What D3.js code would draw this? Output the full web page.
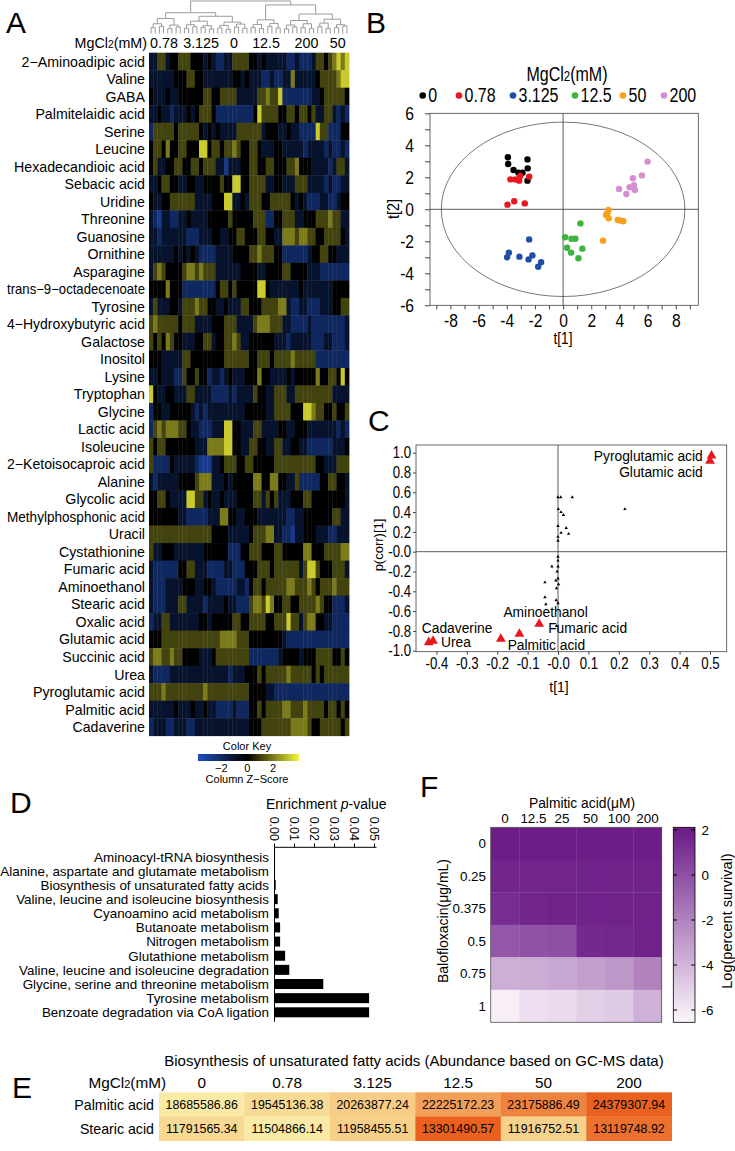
<!DOCTYPE html>
<html>
<head>
<meta charset="utf-8">
<script src="https://cdn.jsdelivr.net/npm/d3@7"></script>
<style>
body { margin: 0; background: #fff; }
svg { display: block; font-family: "Liberation Sans", Arial, sans-serif; }
</style>
</head>
<body>
<svg id="fig" width="735" height="1151"></svg>
<script>
// ---------- data ----------
var metabolites = ["2\u2212Aminoadipic acid","Valine","GABA","Palmitelaidic acid","Serine","Leucine",
	"Hexadecandioic acid","Sebacic acid","Uridine","Threonine","Guanosine","Ornithine","Asparagine",
	"trans\u22129\u2212octadecenoate","Tyrosine","4\u2212Hydroxybutyric acid","Galactose","Inositol","Lysine",
	"Tryptophan","Glycine","Lactic acid","Isoleucine","2\u2212Ketoisocaproic acid","Alanine","Glycolic acid",
	"Methylphosphonic acid","Uracil","Cystathionine","Fumaric acid","Aminoethanol","Stearic acid",
	"Oxalic acid","Glutamic acid","Succinic acid","Urea","Pyroglutamic acid","Palmitic acid","Cadaverine"];
var heatGroups = ["0.78","3.125","0","12.5","200","50"];
// z-score levels
var zLevels = {B: -2.8, b: -1.9, n: -0.9, k: 0, o: 1.1, y: 2.0, Y: 3.3};
var zRows = [
	"nnoonkko ookkknkn bbnnoooo kknknnnn nbbnbbbn ookoyYyY",
	"nnnnnnkk kookknnn nnnnkknk nnnbbnbb nnynnnnn kooooyYY",
	"knnnknnk kkkkkook koooonnn nnooyooY bbbbbbbn nkoooook",
	"nnknnbnn nknkoook bbbbbbbb bkYooook kookooko nnoonbnb",
	"boooooko ooooknkn knnnnooo ooonkkkn nknnbbbb Yoobbbkk",
	"kookykko okkkYYko okooyokk ooknnnkk nnnnnbnn nnbnbbnb",
	"konnkkoo kkookooo nnBnnnkk ookkookk kooykkkn nnnbnoon",
	"nnkookkn nkknnkkk kokkYYkk oooonnkk nnnooonn nnbnbbnn",
	"knnkkooo ooonnnnk kkYYnnkn oookkooo ooknknbb bnnbbnkk",
	"nbBnnbbn nknnnnkk kkkokkkk kooobbkk ooonnkkk oooyoonn",
	"nnbnnnnn nbbbnnnk knnkkook kkookknn yyyoyyoo kkooookn",
	"nnnnnnkn knknbbbb nnnnkkkk ooyoookk bbbbbbnk kookknnn",
	"noyokkkk oyyoyooo nnnnnnkk kknnkkkk ookkkknn nbbbbbbb",
	"kkkkykkk bbbbbbbb kookokkk kkYYknnn nnnnknnn nnnnkkkk",
	"nonnnkkn oooyookk nnknnnoo kkkooooy ynbbnnbb bnnnkkoo",
	"oyoooook ooonnnnk kkooonnn noyyyooo nnbbbbnb bbbbbbbn",
	"okokyokk nnnkkoon kkooyonn kkkkkknn nbnnnnnb bbnnbbbn",
	"kkknnnnn ookkkkkk kkoooooo kkoookoo ooyooooo bbbbbbbb",
	"nnknnnbb okkokkbn nbnknnnk kkykknnn nknkkkkk ykkookYk",
	"Yknnkknn noonnnnb bbbnbnnn nokknnoo onnooooo oooonnnn",
	"bkknnkkk kknbnbnn nnnnnnnk kkkknnoo ookkkYYy ookkokko",
	"boyoyyyo oknnbbbn nnYYkknn noonnnnk knnkkknn nnnnnbnb",
	"okookkkk kkknnnyy yyYYkknn ookknnoo nnkknnbb bbbbnnnk",
	"obbbbknn nnnbBBBn nkoookko okkkkkoo oooooooo kknnnooo",
	"nbnnnnnk kkkoyyyn nnknkkkk kyykkyyk knnobbbb bkkookkn",
	"kkooknnn nYYoonkn nknnnkkk koonokon nnkkkook kkkkkkkn",
	"kkkkkkkn nbbbbbnn nyykknnk kknnnnnn nbbnnkkk kkkkoonn",
	"oooooooo oooooook kkknnnnn koooyynn bbBnnkkk nnnbbnnn",
	"onnkkknn nnnnnkkk kkkbbbkk oookkkoo kkkkkyyk kkooooyy",
	"nbbbbbbk koonnnbb bbnnbbbk kkoookoo oooonoYY okkkooon",
	"nbbbnnnn kkknnkkn bbbbbnnb kookoooo oyyoooyo koooyooo",
	"nbbbnnno onnnnbnn nnknnbbb oyyoYykk ookkoooo yokkbbbn",
	"bnnoonnn nnnnkknk kkkkookk ooookkoo oYoonoyy kknnbbbb",
	"kkkooooo oooooooo oyyyyooo kkkkkkkk nbbbbbbb bbbbbbbb",
	"oyyooyoo kkkknnnk oooooooo bbbbbbbn kkkknkkk ooookkok",
	"nbbbbnnn nnnnnnnn nnnbnnnk kkokoooo oyoooook okoooooo",
	"oooyoooo oooooyoo oooooooo kkkknnbb bbbbbbbb bbbbbbbb",
	"nnnnnnkn nnknnknn bbbbnbbb kkokoooo yyoooyoo ookookok",
	"bnnnbbnn nbbnnnnn nnnnnnnn kkkooooo ooyyyyok koooooko"
];
// column dendrogram: [height, left, right], leaves are column numbers
var dendro = [10,
	[6.4,
		[4.6, [3.0, [1.8, 0, 1], [2.2, 2, 3]], [2.6, [1.5, 4, 5], [2.0, 6, 7]]],
		[5.3,
			[3.8, [2.7, [1.6, 8, 9], [2.1, 10, 11]], [2.4, [1.9, 12, 13], [1.4, 14, 15]]],
			[3.5, [2.5, [1.7, 16, 17], [1.3, 18, 19]], [2.9, [2.0, 20, 21], [1.6, 22, 23]]]]],
	[8.8,
		[4.2, [2.8, [1.9, 24, 25], [1.5, 26, 27]], [3.1, [2.2, 28, 29], [1.7, 30, 31]]],
		[6.0,
			[4.0, [2.6, [1.4, 32, 33], [2.0, 34, 35]], [3.0, [1.8, 36, 37], [1.5, 38, 39]]],
			[4.4, [3.2, [2.1, 40, 41], [1.6, 42, 43]], [2.7, [1.8, 44, 45], [2.3, 46, 47]]]]]];
var keyTicks = [-2, 0, 2];

// PCA scores
var pcaGroups = ["0","0.78","3.125","12.5","50","200"];
var pcaColors = ["#000000","#e8161e","#1f4ea8","#3db53d","#f7a11d","#d58fd0"];
var pcaT1 = [
	[-3.92,-3.9,-3.52,-3.17,-2.88,-2.53,-2.51,-2.53],
	[-3.74,-3.38,-3.12,-3.05,-2.41,-3.95,-3.47,-2.72],
	[-3.97,-3.85,-3.1,-2.41,-2.45,-2.18,-1.77,-1.56],
	[0.14,0.28,0.57,0.59,0.87,1.09,1.23,1.37],
	[2.84,3.05,3.22,3.24,3.14,3.88,4.12,4.28],
	[3.97,4.49,4.72,4.96,5.03,5.1,5.6,6.0]];
var pcaT2 = [
	[3.25,2.83,2.46,2.29,2.29,3.12,2.56,1.79],
	[1.87,1.87,1.79,2.08,2.04,0.29,0.5,0.37],
	[-3.0,-2.71,-2.96,-1.88,-3.13,-2.88,-3.59,-3.31],
	[-1.75,-2.4,-2.71,-1.84,-1.84,-3.06,-0.88,-2.46],
	[-1.96,-0.36,-0.04,-0.56,-0.25,-0.67,-0.71,-0.75],
	[1.27,0.96,1.38,1.94,1.5,1.2,2.12,2.98]];

// S-plot loadings
var loadT1 = [0,0.009,0.047,0.001,0.01,0.018,0.027,0.035,0.01,0,0,0,0.22,
	0,0,0,-0.02,0,-0.007,-0.043,-0.005,-0.043,-0.04,-0.006,0,-0.005,-0.003,0.002];
var loadP = [0.55,0.55,0.55,0.43,0.40,0.37,0.24,0.18,0.19,0.26,0.15,0.11,0.43,
	-0.05,-0.09,-0.15,-0.15,-0.27,-0.29,-0.31,-0.37,-0.46,-0.53,-0.49,-0.52,-0.75,-0.2,-0.33];
var markNames = ["Cadaverine","Urea","Palmitic acid","Aminoethanol","Fumaric acid","Glutamic acid","Pyroglutamic acid"];
var markT1 = [-0.425,-0.411,-0.188,-0.127,-0.062,0.5,0.505];
var markP = [-0.915,-0.902,-0.882,-0.831,-0.73,0.916,0.97];

// pathway enrichment
var pathways = ["Aminoacyl-tRNA biosynthesis","Alanine, aspartate and glutamate metabolism",
	"Biosynthesis of unsaturated fatty acids","Valine, leucine and isoleucine biosynthesis",
	"Cyanoamino acid metabolism","Butanoate metabolism","Nitrogen metabolism","Glutathione metabolism",
	"Valine, leucine and isoleucine degradation","Glycine, serine and threonine metabolism",
	"Tyrosine metabolism","Benzoate degradation via CoA ligation"];
var pathwayP = [0.00002,0.00005,0.0006,0.0016,0.0021,0.0028,0.0028,0.0053,0.0074,0.0244,0.0473,0.0473];
var pTicks = [0, 0.01, 0.02, 0.03, 0.04, 0.05];

// GC-MS abundance
var eConc = ["0","0.78","3.125","12.5","50","200"];
var eAcids = ["Palmitic acid","Stearic acid"];
var ePalmitic = [18685586.86,19545136.38,20263877.24,22225172.23,23175886.49,24379307.94];
var eStearic = [11791565.34,11504866.14,11958455.51,13301490.57,11916752.51,13119748.92];

// survival checkerboard
var fPalm = ["0","12.5","25","50","100","200"];
var fBalo = ["0","0.25","0.375","0.5","0.75","1"];
var fSurv = [
	[2.0,2.0,2.0,2.0,2.0,2.0],
	[1.7,1.7,1.7,1.8,1.8,1.8],
	[1.4,1.7,1.8,1.8,1.8,1.8],
	[-0.3,-0.1,0.0,1.5,1.6,1.8],
	[-3.7,-3.6,-3.4,-3.1,-2.8,-2.0],
	[-6.2,-5.6,-5.4,-5.0,-4.8,-3.8]];
var fTicks = [2, 0, -2, -4, -6];

// ---------- drawing ----------
var svg = d3.select("#fig");
var defs = svg.append("defs");

// condensed look: shrink the drawn width of a text
function squeeze(sel, k) {
	sel.each(function() {
		var w = this.getComputedTextLength();
		d3.select(this).attr("textLength", w * k).attr("lengthAdjust", "spacingAndGlyphs");
	});
}
function fitWidth(sel, maxW) {
	sel.each(function() {
		var w = this.getComputedTextLength();
		if (w > maxW) d3.select(this).attr("textLength", maxW).attr("lengthAdjust", "spacingAndGlyphs");
	});
}

[["A",6,33],["B",366,33],["C",368,431],["D",10,813],["E",12,1098],["F",420,797]].forEach(function(p) {
	svg.append("text").attr("x", p[1]).attr("y", p[2])
		.attr("font-size", 30).text(p[0]);
});

function mgcl(sel, size) {
	sel.append("tspan").text("MgCl");
	sel.append("tspan").attr("font-size", size * 0.72).text("2");
	sel.append("tspan").text("(mM)");
}

// ----- A: heatmap
var xA = d3.scaleBand().domain(d3.range(48)).range([149, 349]);
var yA = d3.scaleBand().domain(metabolites).range([52.7, 735.7]);
var zColor = d3.scaleLinear().domain([-3.8, 0, 4]).range(["#1f4fbf", "#000000", "#f5f535"]).clamp(true);

var gA = svg.append("g");
zRows.forEach(function(row, i) {
	var cells = row.replace(/ /g, "").split("");
	gA.append("g").selectAll("rect").data(cells).enter().append("rect")
		.attr("x", function(d, j) { return xA(j); })
		.attr("y", yA(metabolites[i]))
		.attr("width", xA.bandwidth() + 0.4)
		.attr("height", yA.bandwidth() + 0.4)
		.attr("fill", function(d) { return zColor(zLevels[d]); });
});

gA.selectAll("text.rowlab").data(metabolites).enter().append("text")
	.attr("class", "rowlab")
	.attr("x", 145)
	.attr("y", function(d) { return yA(d) + yA.bandwidth() / 2; })
	.attr("dy", "0.36em")
	.attr("text-anchor", "end")
	.attr("font-size", 14.2)
	.text(function(d) { return d; })
	.call(fitWidth, 138);

var hdr = gA.append("text").attr("x", 147).attr("y", 47.5).attr("text-anchor", "end").attr("font-size", 14.3);
mgcl(hdr, 14.3);
var groupLabelCol = [3.6, 12.5, 20.4, 28.1, 37.8, 45.3];
gA.selectAll("text.grp").data(heatGroups).enter().append("text")
	.attr("class", "grp")
	.attr("x", function(d, i) { return 149 + xA.step() * groupLabelCol[i]; })
	.attr("y", 47.5)
	.attr("text-anchor", "middle")
	.attr("font-size", 14.3)
	.text(function(d) { return d; });

// dendrogram
var dY = d3.scaleLinear().domain([0, 10]).range([33.5, 1]);
var gDen = gA.append("g").attr("fill", "none").attr("stroke", "#9a9a9a").attr("stroke-width", 1);
function drawNode(node) {
	if (typeof node === "number") return {x: xA(node) + xA.bandwidth() / 2, y: dY(0)};
	var a = drawNode(node[1]), b = drawNode(node[2]);
	var y = dY(node[0]);
	gDen.append("path").attr("d", "M" + a.x + "," + a.y + "V" + y + "H" + b.x + "V" + b.y);
	return {x: (a.x + b.x) / 2, y: y};
}
drawNode(dendro);

// colour key
var xKey = d3.scaleLinear().domain([-3.8, 4]).range([198, 299]);
var grad = defs.append("linearGradient").attr("id", "zgrad");
d3.range(-3.8, 4.01, 0.2).forEach(function(v) {
	grad.append("stop").attr("offset", (xKey(v) - 198) / 101).attr("stop-color", zColor(v));
});
gA.append("rect").attr("x", 198).attr("y", 754).attr("width", 101).attr("height", 7).attr("fill", "url(#zgrad)");
gA.append("text").attr("x", 247).attr("y", 750).attr("text-anchor", "middle").attr("font-size", 11).text("Color Key");
gA.selectAll("text.kt").data(keyTicks).enter().append("text")
	.attr("class", "kt")
	.attr("x", function(d) { return xKey(d); })
	.attr("y", 771.5)
	.attr("text-anchor", "middle")
	.attr("font-size", 11)
	.text(function(d) { return d < 0 ? "\u2212" + (-d) : d; });
gA.append("text").attr("x", 247).attr("y", 782.5).attr("text-anchor", "middle").attr("font-size", 11).text("Column Z\u2212Score");

// ----- B: PCA scores
var xB = d3.scaleLinear().domain([-9.45, 9.6]).range([430, 698.3]);
var yB = d3.scaleLinear().domain([-6, 6]).range([305.3, 113.3]);
var gB = svg.append("g");

var tB = gB.append("g").attr("transform", "translate(567,80.5) scale(0.82,1)")
	.append("text").attr("text-anchor", "middle").attr("font-size", 19.5);
mgcl(tB, 19.5);
var legX = [422.7, 459, 513, 575, 623, 664];
pcaGroups.forEach(function(g, i) {
	gB.append("circle").attr("cx", legX[i]).attr("cy", 95.5).attr("r", 3.3).attr("fill", pcaColors[i]);
	gB.append("text").attr("x", legX[i] + 5.5).attr("y", 101.5).attr("font-size", 19.5).text(g)
		.call(squeeze, 0.82);
});

gB.append("rect").attr("x", 430).attr("y", 113.3).attr("width", 268.3).attr("height", 192)
	.attr("fill", "none").attr("stroke", "#444").attr("stroke-width", 0.8);
gB.append("ellipse").attr("cx", xB(0)).attr("cy", yB(0))
	.attr("rx", xB(8.65) - xB(0)).attr("ry", yB(0) - yB(5.45))
	.attr("fill", "none").attr("stroke", "#555").attr("stroke-width", 0.8);
gB.append("line").attr("x1", xB(0)).attr("x2", xB(0)).attr("y1", yB(6)).attr("y2", yB(-6)).attr("stroke", "#333").attr("stroke-width", 0.8);
gB.append("line").attr("x1", 430).attr("x2", 698.3).attr("y1", yB(0)).attr("y2", yB(0)).attr("stroke", "#333").attr("stroke-width", 0.8);

var axBx = gB.append("g").attr("transform", "translate(0,305.3)")
	.call(d3.axisBottom(xB).tickValues(d3.range(-9, 10)).tickSize(4).tickPadding(4)
		.tickFormat(function(d) { return d % 2 === 0 ? d : ""; }));
var axBy = gB.append("g").attr("transform", "translate(430,0)")
	.call(d3.axisLeft(yB).tickValues(d3.range(-6, 7)).tickSize(5).tickPadding(11)
		.tickFormat(function(d) { return d % 2 === 0 ? d : ""; }));
[axBx, axBy].forEach(function(a) {
	a.attr("font-family", null).attr("font-size", 19);
	a.select(".domain").remove();
	a.selectAll("line").attr("stroke", "#444");
	a.selectAll("text").filter(function() { return this.textContent !== ""; }).call(squeeze, 0.82);
});
gB.append("text").attr("transform", "translate(399,209) rotate(-90)").attr("text-anchor", "middle")
	.attr("font-size", 17).text("t[2]").call(squeeze, 0.85);
gB.append("text").attr("x", 563).attr("y", 344).attr("text-anchor", "middle").attr("font-size", 16).text("t[1]")
	.call(squeeze, 0.85);

pcaGroups.forEach(function(g, i) {
	gB.append("g").selectAll("circle").data(d3.zip(pcaT1[i], pcaT2[i])).enter().append("circle")
		.attr("cx", function(d) { return xB(d[0]); })
		.attr("cy", function(d) { return yB(d[1]); })
		.attr("r", 3.2)
		.attr("fill", pcaColors[i]);
});

// ----- C: S-plot
var xC = d3.scaleLinear().domain([-0.4671, 0.5549]).range([416, 726.7]);
var yC = d3.scaleLinear().domain([-1.0, 1.0]).range([650.7, 452.7]);
var gC = svg.append("g");
gC.append("rect").attr("x", 416).attr("y", 445).attr("width", 310.7).attr("height", 206.7)
	.attr("fill", "none").attr("stroke", "#444").attr("stroke-width", 0.8);
gC.append("line").attr("x1", xC(0)).attr("x2", xC(0)).attr("y1", 445).attr("y2", 651.7).attr("stroke", "#333").attr("stroke-width", 0.8);
gC.append("line").attr("x1", 416).attr("x2", 726.7).attr("y1", yC(0)).attr("y2", yC(0)).attr("stroke", "#333").attr("stroke-width", 0.8);
function cFmt(d) { var s = d3.format(".1f")(Math.abs(d)); return (d <= 0.001 ? "-" : "") + s; }
var axCx = gC.append("g").attr("transform", "translate(0,651.7)")
	.call(d3.axisBottom(xC).tickValues(d3.range(-4, 6).map(function(v) { return v / 10; })).tickSize(3).tickPadding(3).tickFormat(cFmt));
var axCy = gC.append("g").attr("transform", "translate(416,0)")
	.call(d3.axisLeft(yC).tickValues(d3.range(-5, 6).map(function(v) { return v / 5; })).tickSize(3).tickPadding(2).tickFormat(cFmt));
[axCx, axCy].forEach(function(a) {
	a.attr("font-family", null).attr("font-size", 16.5);
	a.select(".domain").remove();
	a.selectAll("line").attr("stroke", "#444");
	a.selectAll("text").call(squeeze, 0.8);
});
gC.append("text").attr("transform", "translate(383,545) rotate(-90)").attr("text-anchor", "middle")
	.attr("font-size", 13).text("p(corr)[1]");
gC.append("text").attr("x", 559).attr("y", 692).attr("text-anchor", "middle").attr("font-size", 14).text("t[1]");

var tri = d3.symbol().type(d3.symbolTriangle);
gC.selectAll("path.small").data(d3.zip(loadT1, loadP)).enter().append("path")
	.attr("class", "small")
	.attr("transform", function(d) { return "translate(" + xC(d[0]) + "," + yC(d[1]) + ")"; })
	.attr("d", tri.size(5)())
	.attr("fill", "#000");
gC.selectAll("path.mark").data(d3.zip(markT1, markP)).enter().append("path")
	.attr("class", "mark")
	.attr("transform", function(d) { return "translate(" + xC(d[0]) + "," + yC(d[1]) + ")"; })
	.attr("d", tri.size(42)())
	.attr("fill", "#e8161e");
// label anchors relative to each marker (layout only)
var markLab = {
	"Cadaverine": [-7, -9.3, "start"], "Urea": [8, 5.7, "start"], "Palmitic acid": [6.8, 11, "start"],
	"Aminoethanol": [-16, -17.3, "start"], "Fumaric acid": [9, 8.7, "start"],
	"Glutamic acid": [-7.3, 15.7, "end"], "Pyroglutamic acid": [-8.8, 5.3, "end"]
};
markNames.forEach(function(n, i) {
	var o = markLab[n];
	gC.append("text").attr("x", xC(markT1[i]) + o[0]).attr("y", yC(markP[i]) + o[1])
		.attr("text-anchor", o[2]).attr("font-size", 13.8).text(n);
});

// ----- D: enrichment bars
var xD = d3.scaleLinear().domain([0, 0.05]).range([274.5, 374.5]);
var yD = d3.scalePoint().domain(pathways).range([856.7, 1012.3]);
var gD = svg.append("g");
var tD = gD.append("text").attr("x", 266).attr("y", 808.5).attr("font-size", 14);
tD.append("tspan").text("Enrichment ");
tD.append("tspan").attr("font-style", "italic").text("p");
tD.append("tspan").text("-value");
gD.append("line").attr("x1", xD(0)).attr("x2", 376.5).attr("y1", 847.3).attr("y2", 847.3).attr("stroke", "#000");
gD.append("line").attr("x1", xD(0)).attr("x2", xD(0)).attr("y1", 847.3).attr("y2", 1021.7).attr("stroke", "#000");
pTicks.forEach(function(v) {
	gD.append("line").attr("x1", xD(v)).attr("x2", xD(v)).attr("y1", 843.5).attr("y2", 847.3).attr("stroke", "#000");
	gD.append("text").attr("transform", "translate(" + xD(v) + ",841) rotate(90)")
		.attr("text-anchor", "end").attr("dy", "0.36em").attr("font-size", 12.5)
		.text(d3.format(".2f")(v));
});
gD.selectAll("rect").data(pathways).enter().append("rect")
	.attr("x", xD(0))
	.attr("y", function(d) { return yD(d) - 5; })
	.attr("width", function(d, i) { return xD(pathwayP[i]) - xD(0); })
	.attr("height", 10)
	.attr("fill", "#000");
gD.selectAll("text.pw").data(pathways).enter().append("text")
	.attr("class", "pw")
	.attr("x", 269)
	.attr("y", function(d) { return yD(d); })
	.attr("dy", "0.36em")
	.attr("text-anchor", "end")
	.attr("font-size", 13.4)
	.text(function(d) { return d; });

// ----- E: abundance table
var xE = d3.scaleBand().domain(eConc).range([159, 671.7]);
var yE = d3.scaleBand().domain(eAcids).range([1092.3, 1140.7]);
var gE = svg.append("g");
gE.append("text").attr("x", 414).attr("y", 1066).attr("text-anchor", "middle").attr("font-size", 15)
	.text("Biosynthesis of unsaturated fatty acids (Abundance based on GC-MS data)");
var hE = gE.append("text").attr("x", 166).attr("y", 1088.3).attr("text-anchor", "end").attr("font-size", 15.3);
mgcl(hE, 15.3);
gE.selectAll("text.cc").data(eConc).enter().append("text")
	.attr("class", "cc")
	.attr("x", function(d) { return xE(d) + xE.bandwidth() / 2; })
	.attr("y", 1088.3)
	.attr("text-anchor", "middle")
	.attr("font-size", 15.3)
	.text(function(d) { return d; });
[ePalmitic, eStearic].forEach(function(vals, r) {
	var ext = d3.extent(vals);
	var col = d3.scaleLinear().domain([ext[0], (ext[0] + ext[1]) / 2, ext[1]])
		.range(["#f9eba6", "#f3b36c", "#ea601f"]);
	var acid = eAcids[r];
	gE.append("g").selectAll("rect").data(vals).enter().append("rect")
		.attr("x", function(d, i) { return xE(eConc[i]); })
		.attr("y", yE(acid))
		.attr("width", xE.bandwidth() + 0.3)
		.attr("height", yE.bandwidth() + 0.3)
		.attr("fill", function(d) { return col(d); });
	gE.append("g").selectAll("text").data(vals).enter().append("text")
		.attr("x", function(d, i) { return xE(eConc[i]) + xE.bandwidth() / 2; })
		.attr("y", yE(acid) + yE.bandwidth() / 2)
		.attr("dy", "0.36em")
		.attr("text-anchor", "middle")
		.attr("font-size", 12.4)
		.text(function(d) { return d3.format(".2f")(d); });
	gE.append("text").attr("x", 154).attr("y", yE(acid) + yE.bandwidth() / 2).attr("dy", "0.36em")
		.attr("text-anchor", "end").attr("font-size", 14.2).text(acid);
});

// ----- F: survival checkerboard
var xF = d3.scaleBand().domain(fPalm).range([490.7, 661.7]);
var yF = d3.scaleBand().domain(fBalo).range([827.3, 1022.3]);
var fColor = d3.scaleLinear().domain([-6.5, 2.1]).range(["#fcf6fc", "#6a1a86"]).clamp(true);
var gF = svg.append("g");
gF.append("text").attr("x", 582).attr("y", 808.3).attr("text-anchor", "middle").attr("font-size", 13.8).text("Palmitic acid(\u03bcM)");
gF.selectAll("text.pc").data(fPalm).enter().append("text")
	.attr("class", "pc")
	.attr("x", function(d) { return xF(d) + xF.bandwidth() / 2; })
	.attr("y", 823.3)
	.attr("text-anchor", "middle")
	.attr("font-size", 13.4)
	.text(function(d) { return d; });
gF.selectAll("text.bc").data(fBalo).enter().append("text")
	.attr("class", "bc")
	.attr("x", 486)
	.attr("y", function(d) { return yF(d) + yF.bandwidth() / 2; })
	.attr("dy", "0.36em")
	.attr("text-anchor", "end")
	.attr("font-size", 13.4)
	.text(function(d) { return d; });
gF.append("text").attr("transform", "translate(448,921) rotate(-90)").attr("text-anchor", "middle")
	.attr("font-size", 14).text("Balofloxacin(\u03bcg/mL)");
fSurv.forEach(function(row, r) {
	gF.append("g").selectAll("rect").data(row).enter().append("rect")
		.attr("x", function(d, c) { return xF(fPalm[c]); })
		.attr("y", yF(fBalo[r]))
		.attr("width", xF.bandwidth() + 0.3)
		.attr("height", yF.bandwidth() + 0.3)
		.attr("fill", function(d) { return fColor(d); });
});
gF.append("rect").attr("x", 490.7).attr("y", 827.3).attr("width", 171).attr("height", 195)
	.attr("fill", "none").attr("stroke", "#555").attr("stroke-width", 0.8);

// colour bar
var yFb = d3.scaleLinear().domain([-6, 2]).range([1010, 830]);
var fgrad = defs.append("linearGradient").attr("id", "fgrad")
	.attr("x1", 0).attr("x2", 0).attr("y1", 1).attr("y2", 0);
d3.range(-6.5, 2.11, 0.5).forEach(function(v) {
	fgrad.append("stop").attr("offset", (v + 6.5) / 8.6).attr("stop-color", fColor(v));
});
gF.append("rect").attr("x", 673.3).attr("y", 827.3).attr("width", 21.7).attr("height", 195)
	.attr("fill", "url(#fgrad)").attr("stroke", "#000").attr("stroke-width", 0.8);
fTicks.forEach(function(v) {
	gF.append("line").attr("x1", 673.3).attr("x2", 677).attr("y1", yFb(v)).attr("y2", yFb(v)).attr("stroke", "#000");
	gF.append("line").attr("x1", 691.3).attr("x2", 695).attr("y1", yFb(v)).attr("y2", yFb(v)).attr("stroke", "#000");
	gF.append("text").attr("x", 701.5).attr("y", yFb(v)).attr("dy", "0.36em").attr("font-size", 13.4).text(v);
});
gF.append("text").attr("transform", "translate(732,921) rotate(-90)").attr("text-anchor", "middle")
	.attr("font-size", 14.5).text("Log(percent survival)");
</script>
</body>
</html>
